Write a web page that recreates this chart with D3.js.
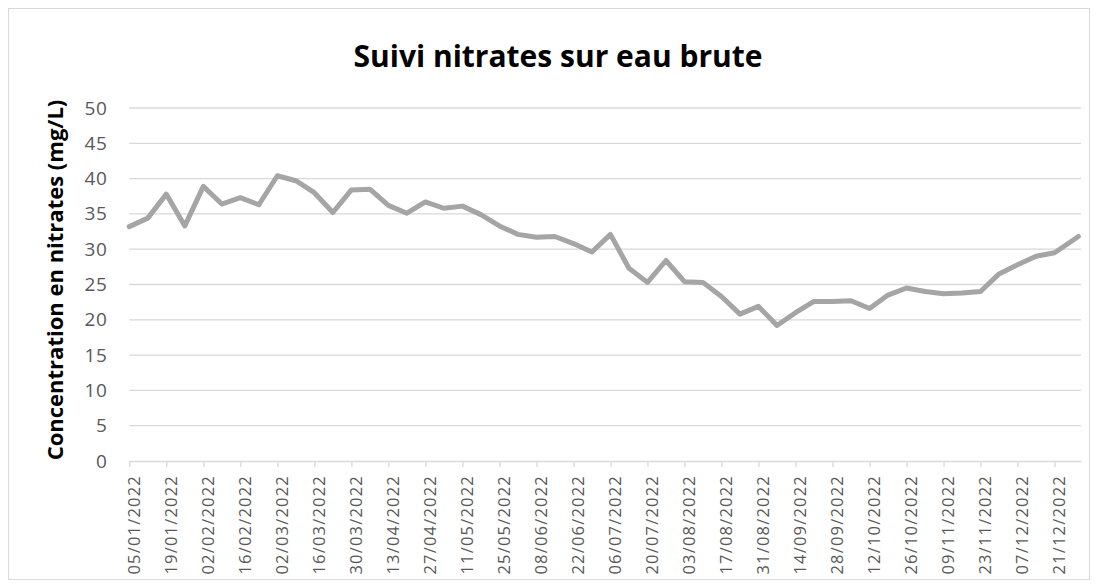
<!DOCTYPE html>
<html>
<head>
<meta charset="utf-8">
<script src="https://cdn.jsdelivr.net/npm/d3@7"></script>
<style>
    body { margin: 0; background: #fff; }
    svg { display: block; }
</style>
</head>
<body>
<svg id="chart"></svg>
<script>
const width = 1098;
const height = 588;

// weekly samples (dd/mm/yyyy)
const dates = [
    '05/01/2022', '12/01/2022', '19/01/2022', '26/01/2022', '02/02/2022', '09/02/2022', '16/02/2022', '23/02/2022',
    '02/03/2022', '09/03/2022', '16/03/2022', '23/03/2022', '30/03/2022', '06/04/2022', '13/04/2022', '20/04/2022',
    '27/04/2022', '04/05/2022', '11/05/2022', '18/05/2022', '25/05/2022', '01/06/2022', '08/06/2022', '15/06/2022',
    '22/06/2022', '29/06/2022', '06/07/2022', '13/07/2022', '20/07/2022', '27/07/2022', '03/08/2022', '10/08/2022',
    '17/08/2022', '24/08/2022', '31/08/2022', '07/09/2022', '14/09/2022', '21/09/2022', '28/09/2022', '05/10/2022',
    '12/10/2022', '19/10/2022', '26/10/2022', '02/11/2022', '09/11/2022', '16/11/2022', '23/11/2022', '30/11/2022',
    '07/12/2022', '14/12/2022', '21/12/2022', '30/12/2022'
];

// nitrates, mg/L
const nitrates = [
    33.2, 34.4, 37.8, 33.3, 38.9, 36.4, 37.3, 36.3,
    40.4, 39.7, 38.0, 35.2, 38.4, 38.5, 36.2, 35.1,
    36.7, 35.8, 36.1, 34.9, 33.3, 32.1, 31.7, 31.8,
    30.8, 29.6, 32.1, 27.3, 25.3, 28.4, 25.4, 25.3,
    23.3, 20.8, 21.9, 19.2, 21.0, 22.6, 22.6, 22.7,
    21.6, 23.5, 24.5, 24.0, 23.7, 23.8, 24.0, 26.5,
    27.8, 29.0, 29.5, 31.8
];

const xTickLabels = [
    '05/01/2022', '19/01/2022', '02/02/2022', '16/02/2022', '02/03/2022', '16/03/2022', '30/03/2022',
    '13/04/2022', '27/04/2022', '11/05/2022', '25/05/2022', '08/06/2022', '22/06/2022', '06/07/2022',
    '20/07/2022', '03/08/2022', '17/08/2022', '31/08/2022', '14/09/2022', '28/09/2022', '12/10/2022',
    '26/10/2022', '09/11/2022', '23/11/2022', '07/12/2022', '21/12/2022'
];
const yTicks = [0, 5, 10, 15, 20, 25, 30, 35, 40, 45, 50];

const parse = d3.timeParse('%d/%m/%Y');
const data = dates.map((d, i) => ({ date: parse(d), value: nitrates[i] }));

const plot = { left: 129.3, right: 1081, top: 108, bottom: 461 };

const x = d3.scaleTime()
    .domain([data[0].date, d3.timeDay.offset(data[data.length - 1].date, 1)])
    .range([plot.left, plot.right]);

const y = d3.scaleLinear()
    .domain([0, 50])
    .range([plot.bottom, plot.top]);

const svg = d3.select('#chart')
    .attr('width', width)
    .attr('height', height);

// chart frame
svg.append('rect')
    .attr('x', 8.5)
    .attr('y', 8.5)
    .attr('width', 1081)
    .attr('height', 571)
    .attr('fill', '#fff')
    .attr('stroke', '#d9d9d9');

svg.append('text')
    .attr('x', 558)
    .attr('y', 67)
    .attr('text-anchor', 'middle')
    .style('font-family', '"Open Sans", sans-serif')
    .style('font-weight', 'bold')
    .style('font-size', '30px')
    .style('fill', '#000')
    .text('Suivi nitrates sur eau brute');

// gridlines
svg.append('g')
    .selectAll('line')
    .data(yTicks.filter(t => t > 0))
    .enter().append('line')
    .attr('x1', plot.left)
    .attr('x2', plot.right)
    .attr('y1', d => y(d))
    .attr('y2', d => y(d))
    .attr('stroke', '#d9d9d9')
    .attr('stroke-width', 1.3);

// y axis labels
const yAxis = svg.append('g')
    .attr('transform', `translate(${plot.left},0)`)
    .call(d3.axisLeft(y).tickValues(yTicks).tickSize(0).tickPadding(22));
yAxis.select('.domain').remove();
yAxis.selectAll('text')
    .style('font-family', '"Open Sans", sans-serif')
    .style('font-size', '19px')
    .style('letter-spacing', '0.5px')
    .style('fill', '#595959');

// x axis
const tickDates = xTickLabels.map(parse);
const xAxis = svg.append('g')
    .attr('transform', `translate(0,${plot.bottom})`)
    .call(d3.axisBottom(x).tickValues(tickDates).tickSizeInner(6).tickSizeOuter(0).tickFormat(d3.timeFormat('%d/%m/%Y')));
xAxis.select('.domain').attr('stroke', '#d9d9d9').attr('stroke-width', 1.3);
xAxis.selectAll('.tick line').attr('stroke', '#d9d9d9').attr('stroke-width', 1.3);
xAxis.selectAll('text')
    .attr('transform', 'translate(10,14) rotate(-90)')
    .attr('x', 0)
    .attr('y', 0)
    .attr('dy', 0)
    .attr('text-anchor', 'end')
    .style('font-family', '"Open Sans", sans-serif')
    .style('font-size', '16.5px')
    .style('letter-spacing', '1.2px')
    .style('fill', '#595959');

svg.append('text')
    .attr('transform', 'translate(63,280) rotate(-90)')
    .attr('text-anchor', 'middle')
    .style('font-family', '"Open Sans", sans-serif')
    .style('font-weight', 'bold')
    .style('font-size', '22px')
    .style('fill', '#000')
    .text('Concentration en nitrates (mg/L)');

const line = d3.line()
    .x(d => x(d.date))
    .y(d => y(d.value));

svg.append('path')
    .datum(data)
    .attr('d', line)
    .attr('fill', 'none')
    .attr('stroke', '#a5a5a5')
    .attr('stroke-width', 5)
    .attr('stroke-linejoin', 'round')
    .attr('stroke-linecap', 'round');
</script>
</body>
</html>
